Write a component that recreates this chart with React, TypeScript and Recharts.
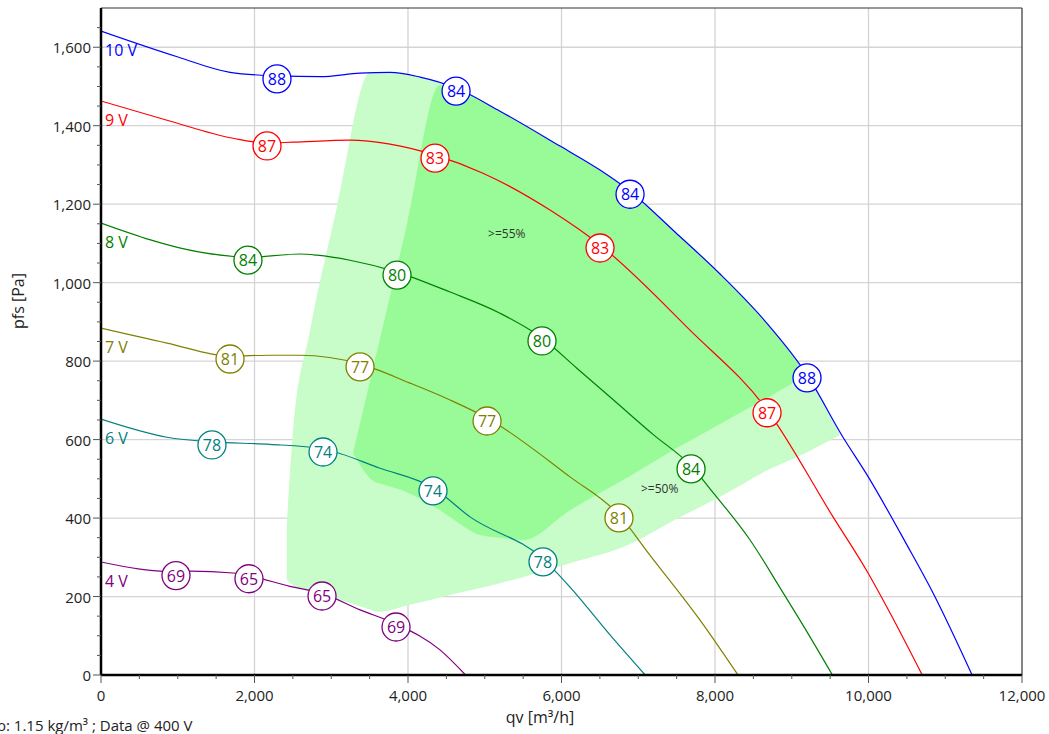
import React from 'react';
import { ComposedChart, Line, Area, Scatter, XAxis, YAxis, CartesianGrid, ReferenceLine } from 'recharts';

const FONT = "'Open Sans', 'Noto Sans', sans-serif";

// fan curves: qv [m3/h] / pfs [Pa] per control voltage
const q10 = [0, 1003, 1681, 2293, 2854, 3375, 3766, 4157, 4626, 5199, 5981, 6502, 6893, 7479, 8066, 8652, 9199, 9668, 9981, 10502, 10841, 11350];
const p10 = [1641, 1575, 1536, 1527, 1525, 1534, 1536, 1524, 1496, 1437, 1348, 1287, 1233, 1129, 1022, 902, 765, 606, 510, 331, 209, 0];
const q9 = [0, 860, 1720, 2163, 2502, 3244, 3766, 4352, 4977, 5850, 6502, 7674, 8678, 9538, 9994, 10281, 10700];
const p9 = [1463, 1414, 1368, 1356, 1358, 1363, 1353, 1325, 1279, 1185, 1096, 879, 676, 403, 260, 158, 0];
const q8 = [0, 1290, 1915, 2593, 2815, 3244, 3857, 4548, 5199, 5746, 6200, 6700, 7200, 7688, 7975, 8457, 8848, 9199, 9530];
const p8 = [1152, 1078, 1065, 1073, 1070, 1057, 1027, 976, 922, 859, 782, 697, 612, 533, 465, 344, 222, 110, 0];
const q7 = [0, 860, 1681, 2202, 2593, 3375, 4026, 4548, 5030, 6111, 6749, 7154, 7805, 8300];
const p7 = [884, 846, 813, 815, 815, 793, 744, 701, 655, 505, 408, 305, 140, 0];
const q6 = [0, 860, 1446, 2200, 2893, 3635, 4326, 4808, 5759, 6111, 6632, 7090];
const p6 = [652, 606, 594, 588, 576, 527, 477, 403, 296, 224, 102, 0];
const q4 = [0, 508, 977, 1160, 1720, 1928, 2463, 2880, 3375, 3844, 4417, 4750];
const p4 = [288, 270, 263, 265, 260, 253, 226, 208, 166, 130, 64, 0];

const curveNames = ['10 V', '9 V', '8 V', '7 V', '6 V', '4 V'];
const curveColors = ['#0000ff', '#ff0000', '#008000', '#808000', '#008080', '#800080'];

// labelled operating points on each curve
const m10q = [2293, 4626, 6893, 9199];
const m10p = [1527, 1496, 1233, 765];
const m10t = ['88', '84', '84', '88'];
const m9q = [2163, 4352, 6502, 8678];
const m9p = [1356, 1325, 1096, 676];
const m9t = ['87', '83', '83', '87'];
const m8q = [1915, 3857, 5746, 7688];
const m8p = [1065, 1027, 859, 533];
const m8t = ['84', '80', '80', '84'];
const m7q = [1681, 3375, 5030, 6749];
const m7p = [813, 793, 655, 408];
const m7t = ['81', '77', '77', '81'];
const m6q = [1446, 2893, 4326, 5759];
const m6p = [594, 576, 477, 296];
const m6t = ['78', '74', '74', '78'];
const m4q = [977, 1928, 2880, 3844];
const m4p = [261, 253, 209, 130];
const m4t = ['69', '65', '65', '69'];

// efficiency zones (low / high pfs per qv)
const lightQ = [2420, 2502, 2723, 3075, 3505, 3600, 4000, 4626, 5199, 6111, 6893, 7479, 8066, 8652, 9199, 9629];
const lightLow = [244, 229, 215, 194, 167, 161, 178, 208, 234, 285, 334, 396, 454, 519, 568, 612];
const lightHigh = [380, 624, 877, 1192, 1536, 1537, 1530, 1496, 1437, 1333, 1233, 1129, 1022, 902, 765, 612];
const darkQ = [3284, 3570, 3635, 3987, 4417, 4626, 4938, 5199, 5498, 6111, 6893, 7479, 8066, 8652, 9199];
const darkLow = [566, 492, 488, 466, 420, 392, 357, 350, 344, 420, 507, 576, 640, 703, 765];
const darkHigh = [566, 803, 857, 1148, 1504, 1496, 1466, 1437, 1404, 1333, 1233, 1129, 1022, 902, 765];

const noteQ = [5043, 7036];
const noteP = [1126, 476];
const noteText = ['>=55%', '>=50%'];

const xTicks = Array.from({ length: 25 }, (_, i) => i * 500);
const yTicks = Array.from({ length: 34 }, (_, i) => i * 50);
const xGrid = [2000, 4000, 6000, 8000, 10000];
const yGrid = [200, 400, 600, 800, 1000, 1200, 1400, 1600];

const toPoints = (q: number[], p: number[]) => q.map((v, i) => ({ q: v, p: p[i] }));
const toMarkers = (q: number[], p: number[], t: string[]) => q.map((v, i) => ({ q: v, p: p[i], t: t[i] }));
const toBand = (q: number[], lo: number[], hi: number[]) => q.map((v, i) => ({ q: v, band: [lo[i], hi[i]] }));

const curves = [
  { pts: toPoints(q10, p10), marks: toMarkers(m10q, m10p, m10t) },
  { pts: toPoints(q9, p9), marks: toMarkers(m9q, m9p, m9t) },
  { pts: toPoints(q8, p8), marks: toMarkers(m8q, m8p, m8t) },
  { pts: toPoints(q7, p7), marks: toMarkers(m7q, m7p, m7t) },
  { pts: toPoints(q6, p6), marks: toMarkers(m6q, m6p, m6t) },
  { pts: toPoints(q4, p4), marks: toMarkers(m4q, m4p, m4t) },
].map((c, i) => ({ ...c, name: curveNames[i], color: curveColors[i] }));

const lightData = toBand(lightQ, lightLow, lightHigh);
const darkData = toBand(darkQ, darkLow, darkHigh);
const notes = noteQ.map((q, i) => ({ q, p: noteP[i], t: noteText[i] }));

const fmt = (v: number) => v.toLocaleString('en-US');

const XTick = (props: any) => {
  const { x, y, payload } = props;
  const major = payload.value % 2000 === 0;
  return (
    <g>
      <line x1={x} x2={x} y1={y} y2={y + (major ? 8 : 4)} stroke="#555" strokeWidth={1} />
      {major && (
        <text x={x} y={y + 20} textAnchor="middle" dominantBaseline="central" fontSize={15} fill="#222" fontFamily={FONT}>
          {fmt(payload.value)}
        </text>
      )}
    </g>
  );
};

const YTick = (props: any) => {
  const { x, y, payload } = props;
  const major = payload.value % 200 === 0;
  return (
    <g>
      <line x1={x - (major ? 8 : 4)} x2={x} y1={y} y2={y} stroke="#555" strokeWidth={1} />
      {major && (
        <text x={x - 10} y={y} textAnchor="end" dominantBaseline="central" fontSize={15} fill="#222" fontFamily={FONT}>
          {fmt(payload.value)}
        </text>
      )}
    </g>
  );
};

const makeMarker = (color: string) => (props: any) => {
  const { cx, cy, payload } = props;
  return (
    <g>
      <circle cx={cx} cy={cy + 3} r={14} fill="#fff" stroke={color} strokeWidth={1.3} />
      <text x={cx} y={cy + 3} textAnchor="middle" dominantBaseline="central" fontSize={16} fill={color} fontFamily={FONT}>
        {payload.t}
      </text>
    </g>
  );
};

const makeNameDot = (name: string, color: string) => (props: any) => {
  const { cx, cy, index } = props;
  if (index !== 0) return <g key={`d${index}`} />;
  return (
    <text key={`d${index}`} x={cx + 4} y={cy + 19} dominantBaseline="central" fontSize={16} fill={color} fontFamily={FONT}>
      {name}
    </text>
  );
};

const renderNote = (props: any) => {
  const { cx, cy, payload } = props;
  return (
    <text x={cx} y={cy} dominantBaseline="central" fontSize={12} fill="#333" fontFamily={FONT}>
      {payload.t}
    </text>
  );
};

export default function App() {
  return (
    <div style={{ position: 'absolute', left: 0, top: 0, width: 1049, height: 734, fontFamily: FONT, overflow: 'hidden' }}>
      <ComposedChart width={1049} height={734} margin={{ top: 8, right: 27, bottom: 0, left: 0 }}>
        <XAxis
          type="number"
          dataKey="q"
          domain={[0, 12000]}
          ticks={xTicks}
          interval={0}
          tick={XTick}
          tickLine={false}
          tickSize={0}
          tickMargin={0}
          height={59}
          allowDataOverflow
          axisLine={{ stroke: '#000', strokeWidth: 2.5 }}
          label={{
            content: () => (
              <text x={540} y={717} textAnchor="middle" dominantBaseline="central" fontSize={16} fill="#222" fontFamily={FONT}>
                qv [m³/h]
              </text>
            ),
          }}
        />
        <YAxis
          type="number"
          domain={[0, 1700]}
          ticks={yTicks}
          interval={0}
          tick={YTick}
          tickLine={false}
          tickSize={0}
          tickMargin={0}
          width={101}
          allowDataOverflow
          axisLine={{ stroke: '#000', strokeWidth: 2.5 }}
          label={{
            content: () => (
              <text x={18} y={301} transform="rotate(-90 18 301)" textAnchor="middle" dominantBaseline="central" fontSize={16} fill="#222" fontFamily={FONT}>
                pfs [Pa]
              </text>
            ),
          }}
        />
        <Area data={lightData} dataKey="band" type="monotone" stroke="none" fill="#c8fcc8" fillOpacity={1} isAnimationActive={false} dot={false} activeDot={false} />
        <Area data={darkData} dataKey="band" type="monotone" stroke="none" fill="#98fb98" fillOpacity={1} isAnimationActive={false} dot={false} activeDot={false} />
        <CartesianGrid horizontalValues={yGrid} verticalValues={xGrid} stroke="#cfcfcf" strokeWidth={1.3} strokeOpacity={0.9} />
        <ReferenceLine y={1700} stroke="#333" strokeWidth={1.2} />
        <ReferenceLine x={12000} stroke="#333" strokeWidth={1.2} />
        {curves.map((c) => (
          <Line
            key={c.name}
            data={c.pts}
            dataKey="p"
            type="monotone"
            stroke={c.color}
            strokeWidth={1.2}
            dot={makeNameDot(c.name, c.color)}
            activeDot={false}
            isAnimationActive={false}
          />
        ))}
        {curves.map((c) => (
          <Scatter key={`m-${c.name}`} data={c.marks} dataKey="p" shape={makeMarker(c.color)} isAnimationActive={false} />
        ))}
        <Scatter data={notes} dataKey="p" shape={renderNote} isAnimationActive={false} />
      </ComposedChart>
      <div style={{ position: 'absolute', left: -3, top: 716, fontSize: 15, color: '#222', whiteSpace: 'nowrap', lineHeight: '18px' }}>
        ρ: 1.15 kg/m³ ; Data @ 400 V
      </div>
    </div>
  );
}
